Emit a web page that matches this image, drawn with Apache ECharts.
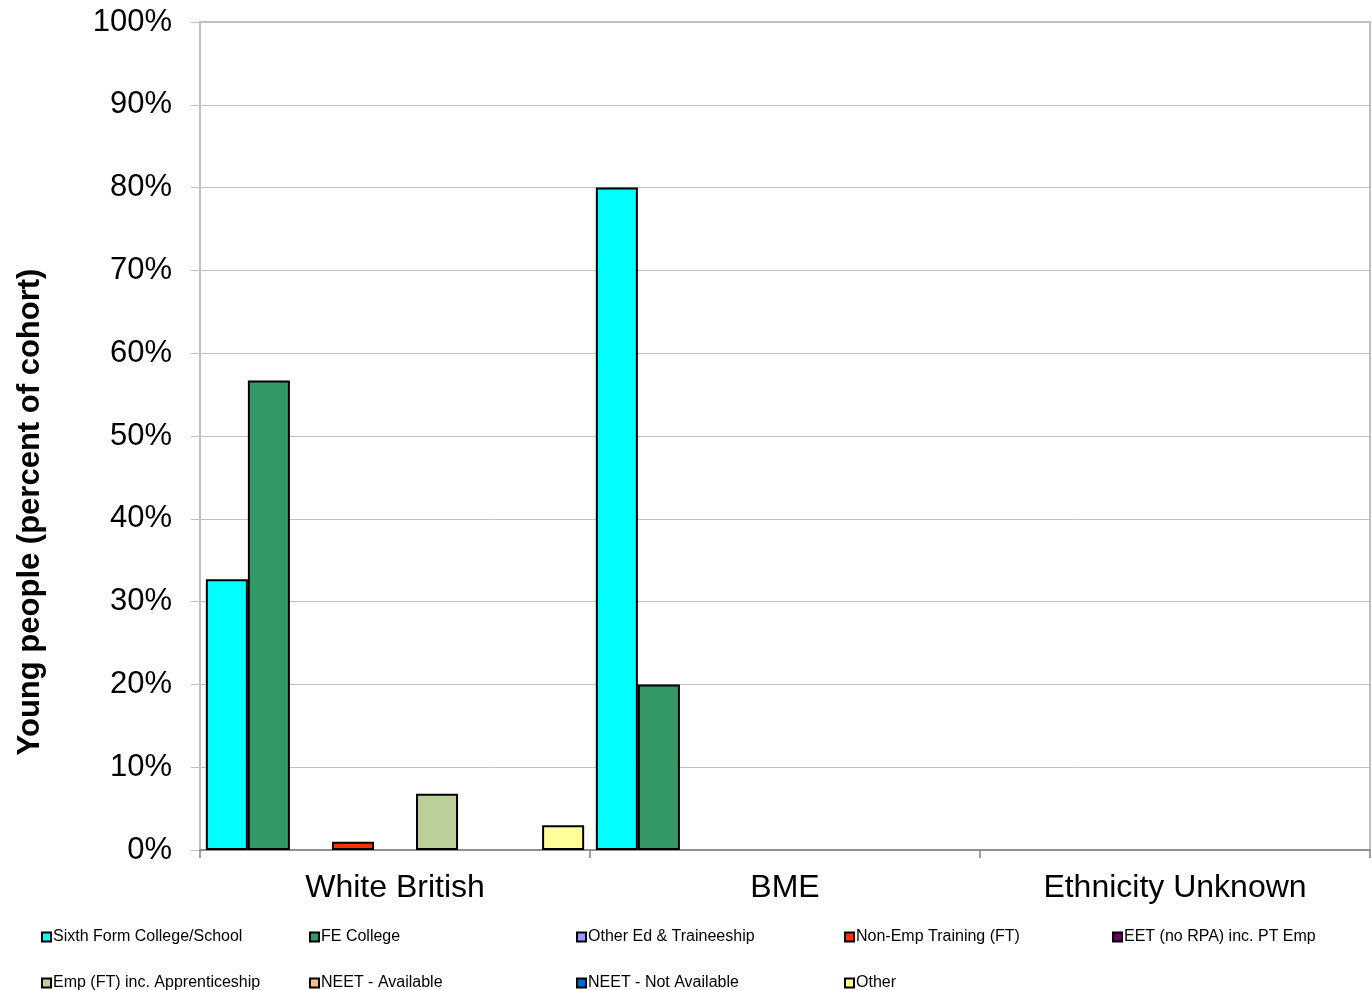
<!DOCTYPE html>
<html>
<head>
<meta charset="utf-8">
<script src="https://cdn.jsdelivr.net/npm/echarts@6/dist/echarts.min.js"></script>
<style>
html,body{margin:0;padding:0;background:#fff;}
#chart{width:1372px;height:990px;}
</style>
</head>
<body>
<div id="chart"></div>
<script>
const categories = ['White British', 'BME', 'Ethnicity Unknown'];
const seriesNames = [
  'Sixth Form College/School', 'FE College', 'Other Ed & Traineeship',
  'Non-Emp Training (FT)', 'EET (no RPA) inc. PT Emp', 'Emp (FT) inc. Apprenticeship',
  'NEET - Available', 'NEET - Not Available', 'Other'
];
const sixthForm = [32.7, 80.0, 0];
const feCollege = [56.7, 20.0, 0];
const otherEd = [0, 0, 0];
const nonEmpTraining = [1.0, 0, 0];
const eetNoRpa = [0, 0, 0];
const empFT = [6.8, 0, 0];
const neetAvailable = [0, 0, 0];
const neetNotAvailable = [0, 0, 0];
const other = [3.0, 0, 0];
const yTicks = [0, 10, 20, 30, 40, 50, 60, 70, 80, 90, 100];
const yTitle = 'Young people (percent of cohort)';

const seriesValues = [sixthForm, feCollege, otherEd, nonEmpTraining, eetNoRpa, empFT, neetAvailable, neetNotAvailable, other];
const colors = ['#00FFFF', '#339966', '#9999FF', '#FF3300', '#660066', '#BBCF99', '#FFBB88', '#0066CC', '#FFFF99'];
const FONT = '"Liberation Sans", Arial, sans-serif';

const legendCols = [41, 309, 576, 844, 1112];
const legendRows = [929, 975];
const legends = seriesNames.map((n, i) => ({
  data: [n],
  left: legendCols[i % 5],
  top: legendRows[Math.floor(i / 5)],
  padding: 0,
  itemWidth: 9,
  itemHeight: 9,
  icon: 'rect',
  selectedMode: false,
  itemStyle: {borderColor: '#000', borderWidth: 2},
  textStyle: {fontSize: 16, fontFamily: FONT, color: '#000', padding: [0, 0, 0, -3]}
}));

const chart = echarts.init(document.getElementById('chart'), null, {renderer: 'canvas'});
chart.setOption({
  animation: false,
  color: colors,
  textStyle: {fontFamily: FONT},
  grid: {left: 200, right: 2, top: 22, bottom: 140, show: true, borderColor: '#c0c0c0', borderWidth: 2, containLabel: false},
  legend: legends,
  graphic: [{
    type: 'text',
    x: 30,
    y: 512,
    rotation: Math.PI / 2,
    style: {
      text: yTitle,
      font: 'bold 31px "Liberation Sans", Arial, sans-serif',
      fill: '#000',
      align: 'center',
      verticalAlign: 'middle'
    }
  }],
  xAxis: {
    type: 'category',
    data: categories,
    axisLine: {show: true, lineStyle: {color: '#808080', width: 1.5}},
    axisTick: {show: true, length: 8, lineStyle: {color: '#808080', width: 1.5}},
    axisLabel: {fontSize: 32, color: '#000', margin: 22, fontFamily: FONT},
    splitLine: {show: false}
  },
  yAxis: {
    type: 'value',
    min: yTicks[0],
    max: yTicks[yTicks.length - 1],
    interval: 10,
    axisLine: {show: true, lineStyle: {color: '#c0c0c0', width: 2}},
    axisTick: {show: true, length: 9, lineStyle: {color: '#c0c0c0', width: 1}},
    axisLabel: {fontSize: 31, color: '#000', margin: 28, formatter: '{value}%', fontFamily: FONT, padding: [4, 0, 0, 0]},
    splitLine: {show: true, lineStyle: {color: '#c0c0c0', width: 1}}
  },
  series: seriesNames.map((n, i) => ({
    name: n,
    type: 'bar',
    data: seriesValues[i].map(v => v === 0 ? '-' : v),
    barGap: '0%',
    barCategoryGap: '3%',
    itemStyle: {color: colors[i], borderColor: '#000', borderWidth: 2}
  }))
});
</script>
</body>
</html>
